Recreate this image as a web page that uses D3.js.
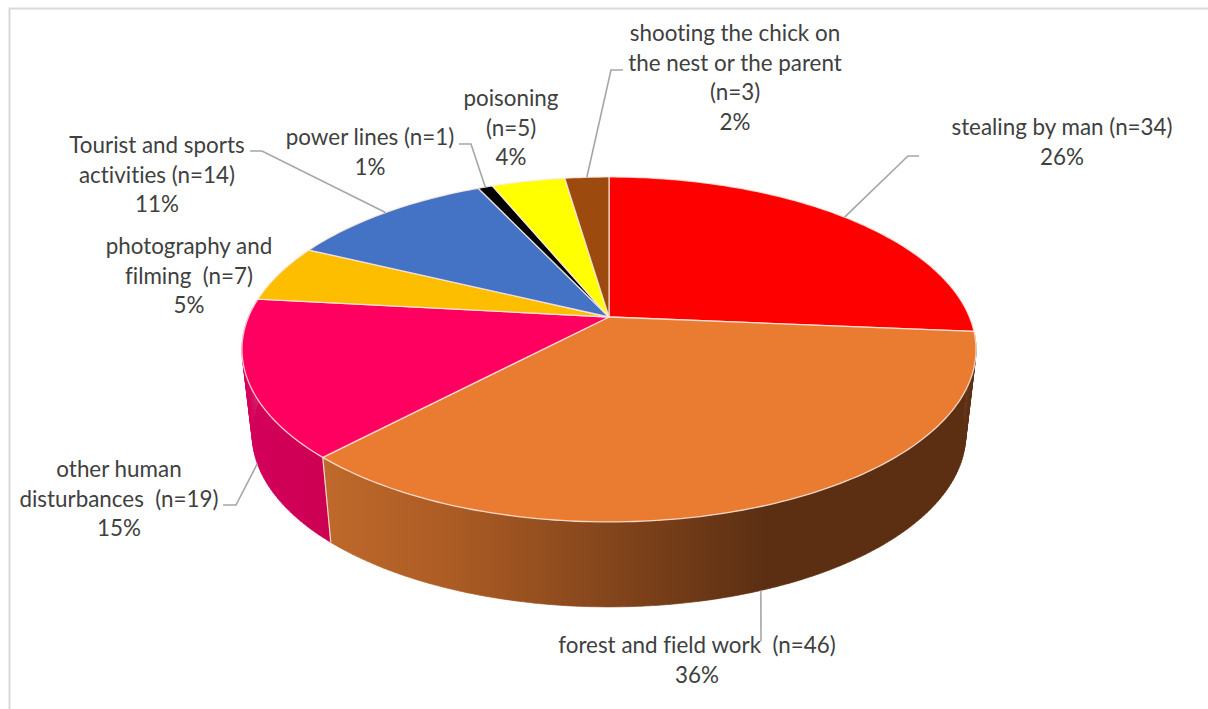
<!DOCTYPE html>
<html><head><meta charset="utf-8">
<script src="https://cdn.jsdelivr.net/npm/d3@7"></script>
<style>html,body{margin:0;padding:0;background:#fff}svg{display:block}text{font-family:Lato,"Open Sans",sans-serif;font-size:22.4px;fill:#404040;text-anchor:middle;font-variant-ligatures:none}</style>
</head><body><svg id="c" width="1208" height="709"></svg>
<script>
const categories = ["stealing by man (n=34)","forest and field work  (n=46)","other human disturbances  (n=19)","photography and filming  (n=7)","Tourist and sports activities (n=14)","power lines (n=1)","poisoning (n=5)","shooting the chick on the nest or the parent (n=3)"];
const counts = [34,46,19,7,14,1,5,3];
const colors = ["#ff0000","#ea7c31","#ff0060","#fdbe00","#4472c4","#000000","#ffff00","#9c4a0e"];
const labelLines = [["stealing by man (n=34)"],["forest and field work  (n=46)"],["other human","disturbances  (n=19)"],["photography and","filming  (n=7)"],["Tourist and sports","activities (n=14)"],["power lines (n=1)"],["poisoning","(n=5)"],["shooting the chick on","the nest or the parent","(n=3)"]];

// layout (not data)
const cx=609, cy=317, k=360.5, m=166.4, p=0.188, depth=85, lowScale=0.972;
const labelPos=[[1062,135],[697,653],[119,477],[189,254],[157,153],[370,145],[511,106],[735,41]];
const lineH=29.6;
const leaders=[[919,908,156,false],[761,761,641,true],[223,236,505,true],null,[250,262,151,false],[459,471,144,false],null,[623,611,70,false]];

const svg=d3.select("#c");
const top3=a=>{const u=Math.sin(a),v=-Math.cos(a),d=1-p*v;return [cx+k*u/d,cy+m*v/d];};
const low3=a=>{const [x,y]=top3(a);return [cx+(x-cx)*lowScale,y+depth];};
const total=d3.sum(counts);
const arcs=d3.pie().sort(null).startAngle(0).endAngle(2*Math.PI)(counts);
const samples=(a,b)=>d3.range(0,1.0001,1/Math.max(4,Math.ceil((b-a)*60))).map(t=>a+(b-a)*t);
const line=d3.line();

const defs=svg.append("defs");
const g1=defs.append("linearGradient").attr("id","wallO").attr("gradientUnits","userSpaceOnUse").attr("x1",323).attr("x2",765).attr("y1",0).attr("y2",0);
g1.append("stop").attr("offset",0).attr("stop-color","#bf692b");
g1.append("stop").attr("offset",0.3).attr("stop-color","#ab5b24");
g1.append("stop").attr("offset",1).attr("stop-color","#5c2f13");
const g2=defs.append("linearGradient").attr("id","wallP").attr("gradientUnits","userSpaceOnUse").attr("x1",245).attr("x2",330).attr("y1",0).attr("y2",0);
g2.append("stop").attr("offset",0).attr("stop-color","#d4005a");
g2.append("stop").attr("offset",1).attr("stop-color","#cc0052");

// frame
svg.append("path").attr("d","M1208 8.5H9.5V709").attr("fill","none").attr("stroke","#d9d9d9").attr("stroke-width",2);

// side walls: one quad per angular step, so the outer silhouette stays filled
const wallFill={1:"url(#wallO)",2:"url(#wallP)"};
[2,1].forEach(i=>{
  const a=arcs[i], s=samples(a.startAngle,a.endAngle);
  const d=d3.pairs(s).map(([b,c])=>line([top3(b),top3(c),low3(c),low3(b)])+"Z").join("");
  svg.append("path").attr("d",d).attr("fill",wallFill[i]).attr("fill-rule","nonzero").attr("stroke",wallFill[i]).attr("stroke-width",0.6);
});
// seam between pink and orange wall
svg.append("path").attr("d",line([top3(arcs[1].endAngle),low3(arcs[1].endAngle)])).attr("stroke","#f2d9cf").attr("stroke-width",1.2).attr("fill","none");

// top faces
arcs.forEach((a,i)=>{
  const pts=[[cx,cy]].concat(samples(a.startAngle,a.endAngle).map(top3));
  svg.append("path").attr("d",line(pts)+"Z").attr("fill",colors[i]).attr("stroke","#fbe9df").attr("stroke-opacity",0.85).attr("stroke-width",1.3).attr("stroke-linejoin","round");
});

// leaders
arcs.forEach((a,i)=>{
  const l=leaders[i]; if(!l) return;
  const mid=(a.startAngle+a.endAngle)/2, e=(l[3]?low3:top3)(mid);
  svg.append("path").attr("d",line([[l[0],l[2]],[l[1],l[2]],e])).attr("fill","none").attr("stroke","#a6a6a6").attr("stroke-width",1.6);
});

// labels
const pct=d3.format(".0%");
arcs.forEach((a,i)=>{
  const t=svg.append("text").attr("aria-label",categories[i]);
  labelLines[i].concat([pct(counts[i]/total)]).forEach((s,j)=>{
    t.append("tspan").attr("x",labelPos[i][0]).attr("y",labelPos[i][1]+j*lineH).style("white-space","pre").text(s);
  });
});
</script></body></html>
